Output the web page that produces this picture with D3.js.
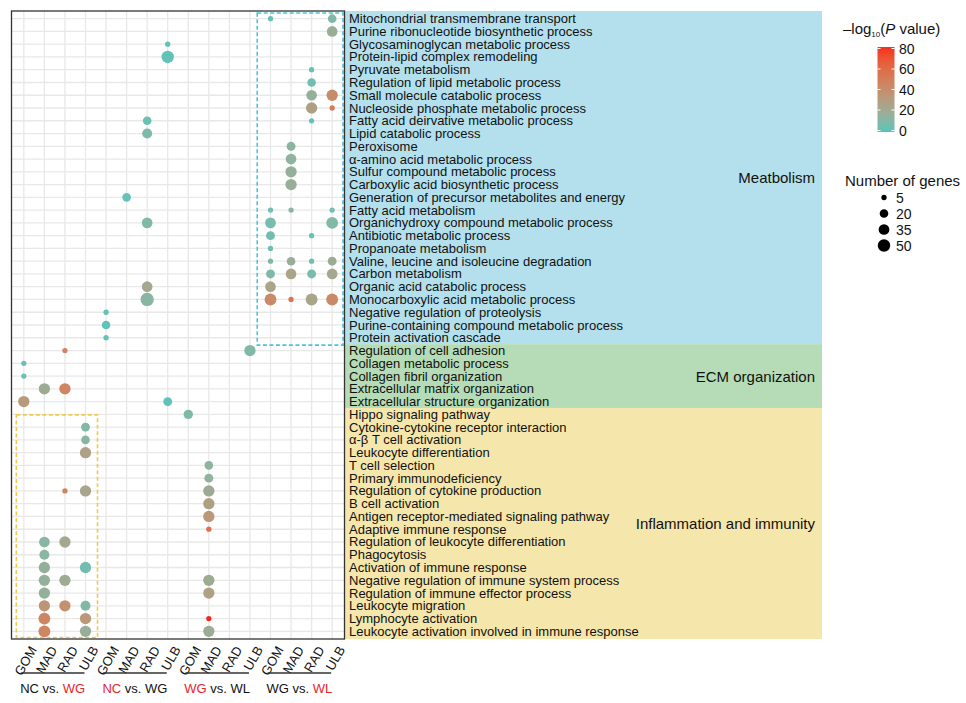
<!DOCTYPE html>
<html><head><meta charset="utf-8">
<script src="https://cdn.jsdelivr.net/npm/d3@7"></script>
<style>
body{margin:0;background:#fff;}
text{font-family:"Liberation Sans",Arial,Helvetica,sans-serif;fill:#111;}
</style>
</head><body>
<svg id="chart" width="966" height="703"></svg>
<script>
// ---------------- data ----------------
const terms = [
  "Mitochondrial transmembrane transport",
  "Purine ribonucleotide biosynthetic process",
  "Glycosaminoglycan metabolic process",
  "Protein-lipid complex remodeling",
  "Pyruvate metabolism",
  "Regulation of lipid metabolic process",
  "Small molecule catabolic process",
  "Nucleoside phosphate metabolic process",
  "Fatty acid deirvative metabolic process",
  "Lipid catabolic process",
  "Peroxisome",
  "α-amino acid metabolic process",
  "Sulfur compound metabolic process",
  "Carboxylic acid biosynthetic process",
  "Generation of precursor metabolites and energy",
  "Fatty acid metabolism",
  "Organichydroxy compound metabolic process",
  "Antibiotic metabolic process",
  "Propanoate metabolism",
  "Valine, leucine and isoleucine degradation",
  "Carbon metabolism",
  "Organic acid catabolic process",
  "Monocarboxylic acid metabolic process",
  "Negative regulation of proteolysis",
  "Purine-containing compound metabolic process",
  "Protein activation cascade",
  "Regulation of cell adhesion",
  "Collagen metabolic process",
  "Collagen fibril organization",
  "Extracellular matrix organization",
  "Extracellular structure organization",
  "Hippo signaling pathway",
  "Cytokine-cytokine receptor interaction",
  "α-β T cell activation",
  "Leukocyte differentiation",
  "T cell selection",
  "Primary immunodeficiency",
  "Regulation of cytokine production",
  "B cell activation",
  "Antigen receptor-mediated signaling pathway",
  "Adaptive immune response",
  "Regulation of leukocyte differentiation",
  "Phagocytosis",
  "Activation of immune response",
  "Negative regulation of immune system process",
  "Regulation of immune effector process",
  "Leukocyte migration",
  "Lymphocyte activation",
  "Leukocyte activation involved in immune response"
];
const categoryNames = ["Meatbolism", "ECM organization", "Inflammation and immunity"];
const categorySizes = [26, 5, 18];

const tissues = ["GOM", "MAD", "RAD", "ULB"];
const comparisonLeft = ["NC vs. ", "NC", "WG", "WG vs. "];
const comparisonRight = ["WG", " vs. WG", " vs. WL", "WL"];
const comparisonRedPart = ["right", "left", "left", "right"];

// points: term number (1-based), column number (1-16), gene count, -log10(P)
const pointTerm  = [1,1,2,3,4,5,6,7,7,8,8,9,9,10,11,12,13,14,15,16,16,16,17,17,17,18,18,19,20,20,20,20,21,21,21,21,22,22,23,23,23,23,23,24,25,26,27,27,28,29,30,30,31,31,32,33,34,35,36,37,38,38,38,39,40,41,42,42,43,44,44,45,45,45,46,46,47,47,47,48,48,48,49,49,49];
const pointCol   = [13,16,16,8,8,15,15,15,16,15,16,7,15,7,14,14,14,14,6,13,14,16,7,13,16,13,15,13,13,14,15,16,13,14,15,16,7,13,7,13,14,15,16,5,5,5,3,12,1,1,2,3,1,8,9,4,4,4,10,10,3,4,10,10,10,10,2,3,2,2,4,2,3,10,2,10,2,3,4,2,4,10,2,4,10];
const pointGenes = [5,20,35,5,50,5,20,35,40,40,5,20,5,30,22,35,40,40,20,5,5,5,35,35,45,22,5,5,5,20,5,22,22,35,22,35,35,35,58,45,5,45,45,5,20,5,5,40,5,5,40,40,40,22,25,22,20,40,20,22,5,40,40,40,40,5,35,40,30,40,40,40,40,40,40,40,40,40,30,45,40,5,45,40,40];
const pointLogP  = [3,10,18,2,2,3,6,16,40,28,50,4,3,9,13,14,16,18,3,5,12,5,10,7,10,6,3,5,10,17,4,20,10,25,7,22,22,25,12,42,55,24,42,2,2,3,45,10,4,4,20,45,32,2,9,10,12,27,14,15,45,24,20,28,33,55,12,22,12,16,6,16,20,20,16,27,35,38,10,45,33,82,45,17,20];

const colorTicks = [0, 20, 40, 60, 80];
const sizeBreaks = [5, 20, 35, 50];

// ---------------- layout ----------------
const svg = d3.select("#chart");
const P = {left: 11.5, right: 344.5, top: 11, bottom: 639};
const columns = [];
tissues.forEach(() => {});
for (let c = 0; c < 4; c++) for (let t = 0; t < 4; t++) columns.push(c * 4 + t + 1);

const x = d3.scalePoint().domain(columns).range([P.left, P.right]).padding(0.6);
const y = d3.scalePoint().domain(terms).range([P.top, P.bottom]).padding(0.6);
const color = d3.scaleLinear().domain([0, 82]).range(["#56c5bc", "#f8241a"])
  .interpolate(d3.interpolateLab).clamp(true);
const size = d3.scaleSqrt().domain([0, 50]).range([1, 6.2]);

// category backgrounds
const catColors = ["#b3e0ec", "#b5dcb6", "#f5e6ab"];
const labelX0 = P.right, labelX1 = 822;
let start = 0;
categorySizes.forEach((n, i) => {
  const first = terms[start], last = terms[start + n - 1];
  const y0 = i === 0 ? P.top : y(first) - y.step() / 2;
  const y1 = i === categorySizes.length - 1 ? P.bottom : y(last) + y.step() / 2;
  svg.append("rect").attr("x", labelX0).attr("y", y0).attr("width", labelX1 - labelX0)
    .attr("height", y1 - y0).attr("fill", catColors[i]);
  svg.append("text").attr("x", 815).attr("y", (y0 + y1) / 2).attr("text-anchor", "end")
    .attr("dominant-baseline", "central").attr("font-size", 15).text(categoryNames[i]);
  start += n;
});

// term labels
svg.append("g").selectAll("text").data(terms).join("text")
  .attr("x", P.right + 4.5).attr("y", d => y(d)).attr("dominant-baseline", "central")
  .attr("font-size", 13).text(d => d);

// grid
const g = svg.append("g");
g.selectAll("line.v").data(columns).join("line").attr("class", "v")
  .attr("x1", d => x(d)).attr("x2", d => x(d)).attr("y1", P.top).attr("y2", P.bottom)
  .attr("stroke", "#e8e8e8").attr("stroke-width", 1.3);
g.selectAll("line.h").data(terms).join("line").attr("class", "h")
  .attr("y1", d => y(d)).attr("y2", d => y(d)).attr("x1", P.left).attr("x2", P.right)
  .attr("stroke", "#e8e8e8").attr("stroke-width", 1.3);

// dashed boxes
const xs = x.step(), ys = y.step();
svg.append("rect")
  .attr("x", (x(12) + x(13)) / 2 - 3).attr("y", P.top + 2)
  .attr("width", P.right - 1.5 - ((x(12) + x(13)) / 2 - 3))
  .attr("height", (y(terms[25]) + y(terms[26])) / 2 + 1 - (P.top + 2))
  .attr("fill", "none").attr("stroke", "#4ec3d6").attr("stroke-width", 1.6)
  .attr("stroke-dasharray", "4,2.5");
svg.append("rect")
  .attr("x", x(1) - 7.5).attr("y", y(terms[31]) + 0.5)
  .attr("width", x(4) + 12 - (x(1) - 7.5))
  .attr("height", P.bottom - 1.5 - (y(terms[31]) + 0.5))
  .attr("fill", "none").attr("stroke", "#f2c94c").attr("stroke-width", 1.6)
  .attr("stroke-dasharray", "4,2.5");

// points
const pts = pointTerm.map((t, i) => ({term: terms[t - 1], col: pointCol[i], n: pointGenes[i], v: pointLogP[i]}));
svg.append("g").selectAll("circle").data(pts).join("circle")
  .attr("cx", d => x(d.col)).attr("cy", d => y(d.term)).attr("r", d => size(d.n))
  .attr("fill", d => color(d.v));

// panel border
svg.append("rect").attr("x", P.left).attr("y", P.top).attr("width", P.right - P.left)
  .attr("height", P.bottom - P.top).attr("fill", "none").attr("stroke", "#333").attr("stroke-width", 1.3);

// x labels
svg.append("g").selectAll("text").data(columns).join("text")
  .attr("transform", d => `translate(${x(d) + 13.4},649.5) rotate(-60)`)
  .attr("text-anchor", "end").attr("font-size", 13)
  .text(d => tissues[(d - 1) % 4]);

// comparison underline + labels
for (let c = 0; c < 4; c++) {
  const a = x(c * 4 + 1) - 3, b = x(c * 4 + 4) - 1;
  svg.append("line").attr("x1", a).attr("x2", b).attr("y1", 673).attr("y2", 673)
    .attr("stroke", "#333").attr("stroke-width", 1.4);
  const t = svg.append("text").attr("x", (a + b) / 2).attr("y", 688)
    .attr("text-anchor", "middle").attr("dominant-baseline", "central")
    .attr("font-size", 13).style("white-space", "pre");
  t.append("tspan").text(comparisonLeft[c]).style("fill", comparisonRedPart[c] === "left" ? "#e6262b" : "#111");
  t.append("tspan").text(comparisonRight[c]).style("fill", comparisonRedPart[c] === "right" ? "#e6262b" : "#111");
}

// color legend
const defs = svg.append("defs");
const grad = defs.append("linearGradient").attr("id", "cg").attr("x1", 0).attr("x2", 0).attr("y1", 1).attr("y2", 0);
d3.range(0, 1.0001, 0.1).forEach(f => grad.append("stop").attr("offset", f).attr("stop-color", color(f * 80)));
const ly = d3.scaleLinear().domain([0, 80]).range([130.5, 48.5]);
const lt = svg.append("text").attr("x", 843).attr("y", 34).attr("font-size", 15);
lt.append("tspan").text("\u2013log");
lt.append("tspan").attr("font-size", 8).attr("dy", 3).text("10");
lt.append("tspan").attr("dy", -3).text("(");
lt.append("tspan").attr("font-style", "italic").text("P");
lt.append("tspan").style("white-space", "pre").text(" value)");
svg.append("rect").attr("x", 877.5).attr("y", ly(80) - 1.5).attr("width", 17)
  .attr("height", ly(0) - ly(80) + 3).attr("fill", "url(#cg)");
colorTicks.forEach(v => {
  svg.append("line").attr("x1", 877.5).attr("x2", 880.5).attr("y1", ly(v)).attr("y2", ly(v)).attr("stroke", "#fff").attr("stroke-width", 1);
  svg.append("line").attr("x1", 891.5).attr("x2", 894.5).attr("y1", ly(v)).attr("y2", ly(v)).attr("stroke", "#fff").attr("stroke-width", 1);
  svg.append("text").attr("x", 899).attr("y", ly(v)).attr("dominant-baseline", "central")
    .attr("font-size", 14).text(v);
});

// size legend
svg.append("text").attr("x", 845).attr("y", 180).attr("dominant-baseline", "central")
  .attr("font-size", 15).text("Number of genes");
const sy = d3.scalePoint().domain(sizeBreaks).range([197.5, 245.5]);
sizeBreaks.forEach(s => {
  svg.append("circle").attr("cx", 884).attr("cy", sy(s)).attr("r", size(s)).attr("fill", "#000");
  svg.append("text").attr("x", 896).attr("y", sy(s)).attr("dominant-baseline", "central")
    .attr("font-size", 14).text(s);
});
</script>
</body></html>
